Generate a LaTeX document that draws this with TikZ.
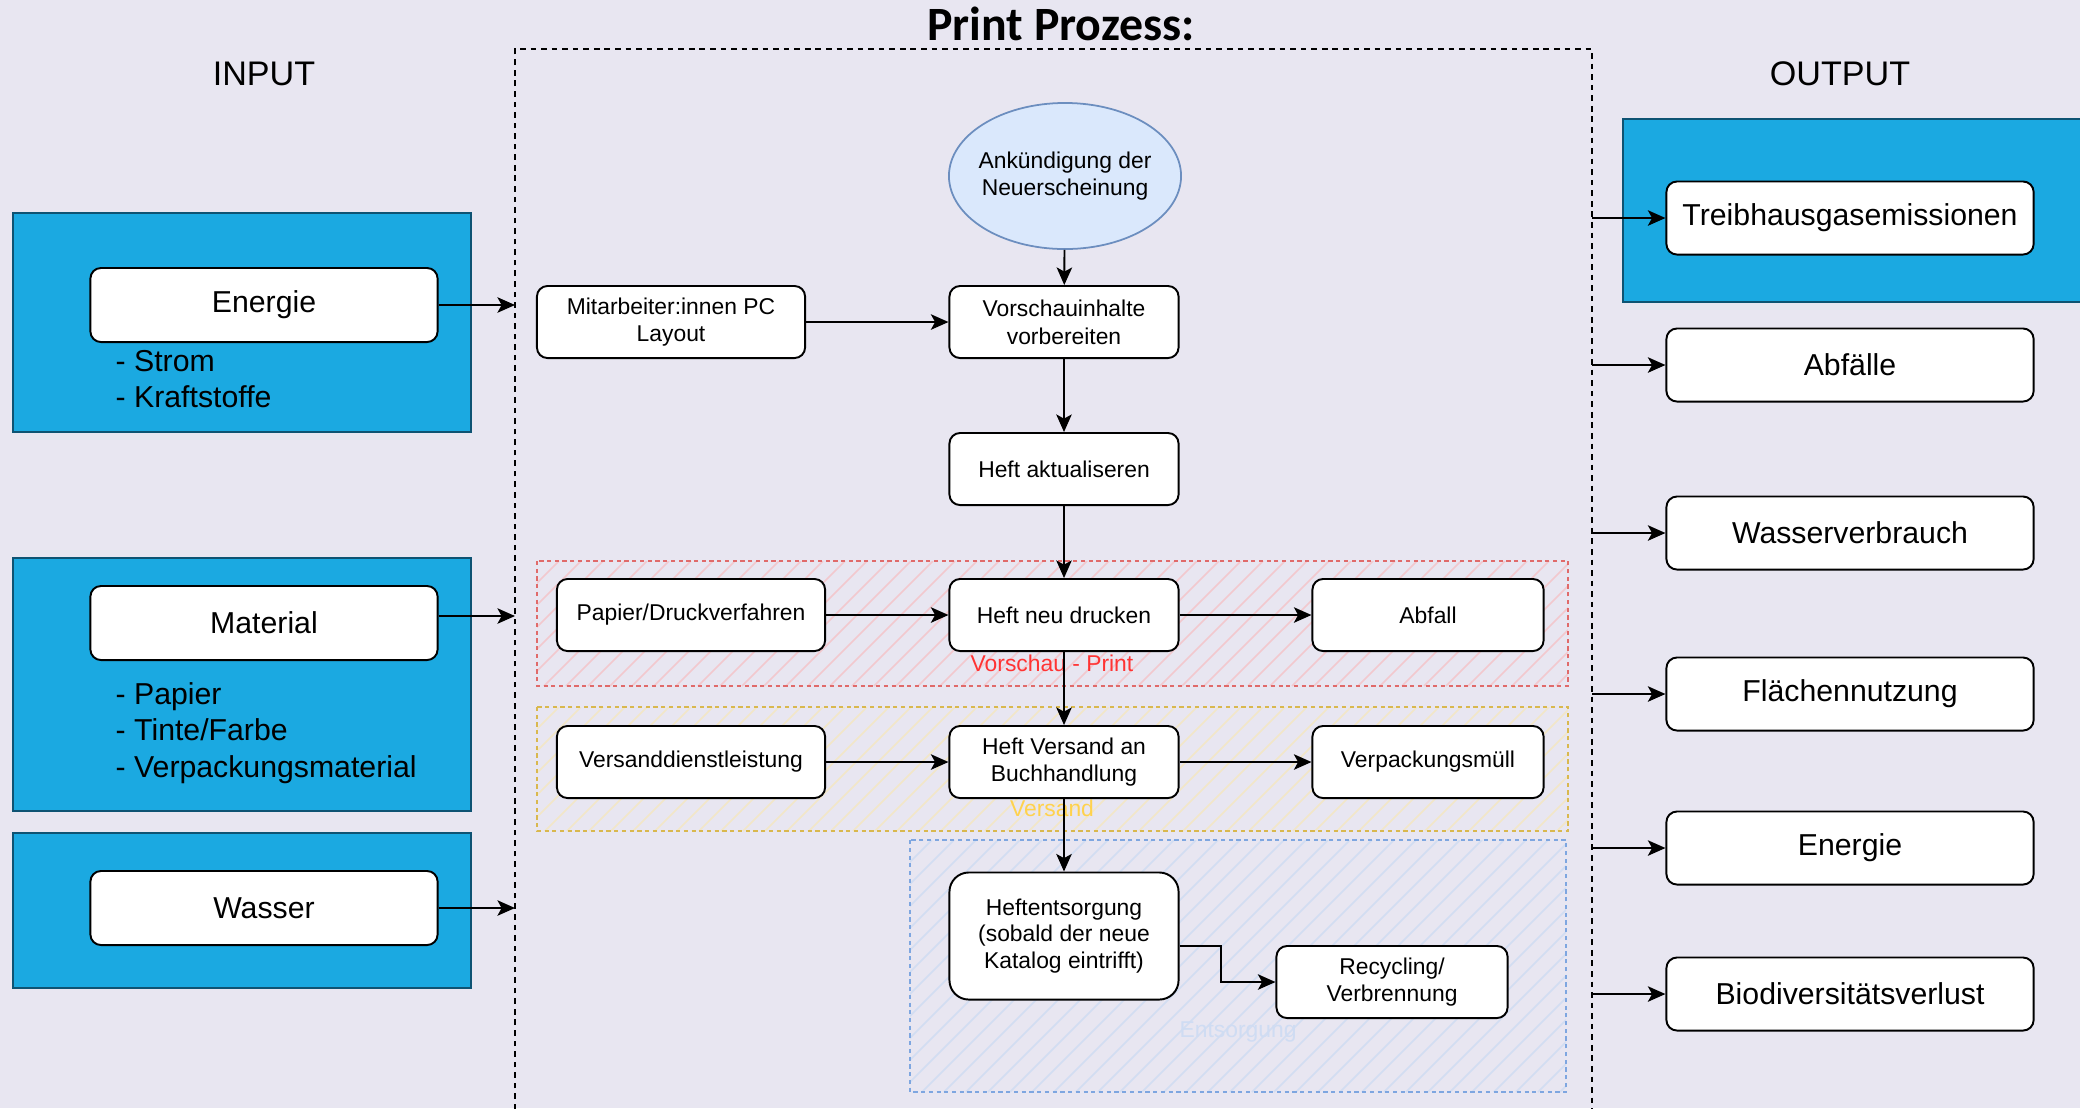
\documentclass[tikz,border=0pt]{standalone}
\usepackage{fontspec}
\setmainfont{Liberation Sans}
\newfontfamily\titlefont{Carlito}
\usetikzlibrary{arrows.meta,shapes.geometric}
\definecolor{bgcolor}{HTML}{E8E6F1}
\definecolor{bluefill}{HTML}{1BA9E1}
\definecolor{bluedraw}{HTML}{0E5373}
\definecolor{ellfill}{HTML}{DAE8FC}
\definecolor{elldraw}{HTML}{6C8EBF}
\definecolor{redline}{HTML}{E06A6A}
\definecolor{redhatch}{HTML}{F2C8CE}
\definecolor{redtext}{HTML}{FF3333}
\definecolor{yellowline}{HTML}{D9B84E}
\definecolor{yellowhatch}{HTML}{F2E6C8}
\definecolor{yellowtext}{HTML}{FFD24D}
\definecolor{blueline}{HTML}{7EA6E0}
\definecolor{bluehatch}{HTML}{D2DDF2}
\definecolor{bluetext}{HTML}{CFDCF3}

\begin{document}
\begin{tikzpicture}
[x=0.01cm,y=-0.01cm,
  stepbox/.style={shape=rectangle,draw,line width=0.55pt,fill=white,rounded corners=3pt,
    minimum width=2.29cm,minimum height=0.72cm,align=center,inner sep=1pt,
    font=\fontsize{6.5}{7.9}\selectfont},
  widebox/.style={stepbox,minimum width=2.68cm},
  bigbox/.style={stepbox,minimum width=3.47cm,minimum height=0.74cm,
    font=\fontsize{8.6}{10.4}\selectfont},
  outbox/.style={bigbox,minimum width=3.67cm,minimum height=0.73cm},
  groupbox/.style={draw=bluedraw,fill=bluefill,line width=0.7pt},
  listtext/.style={anchor=west,align=left,inner sep=0pt,font=\fontsize{8.6}{10.3}\selectfont},
  grouplabel/.style={inner sep=0pt,font=\fontsize{6.5}{7.9}\selectfont},
  arrowdecorate/.style={-{Stealth[length=5pt,width=4.4pt,inset=1.2pt]},line width=0.55pt}]
%% background
\path[use as bounding box,fill=bgcolor] (0,0) rectangle (2080,1108);
%% headings
\node (title) at (1061,24) [font=\titlefont\bfseries\fontsize{13.6}{16}\selectfont] {Print Prozess:};
\node (input) at (264,74) [font=\fontsize{9.7}{11}\selectfont] {INPUT};
\node (output) at (1840,74) [font=\fontsize{9.7}{11}\selectfont] {OUTPUT};
%% process frame
\draw[line width=0.6pt,dash pattern=on 1.6pt off 1.4pt] (515,1120) -- (515,49) -- (1592,49) -- (1592,1120);
%% hatched groups
\foreach \gx/\gy/\gw/\gh/\ghatch/\gline in {537/561/1031/125/redhatch/redline,
  537/707/1031/124/yellowhatch/yellowline, 910/840/656/252/bluehatch/blueline} {
  \begin{scope}
    \clip (\gx,\gy) rectangle ++(\gw,\gh);
    \foreach \hx in {0,22,...,1180}
      \draw[\ghatch,line width=0.45pt] (\gx-\gh+\hx,\gy+\gh) -- ++(\gh,-\gh);
  \end{scope}
  \draw[\gline,line width=0.5pt,dash pattern=on 1.2pt off 1pt] (\gx,\gy) rectangle ++(\gw,\gh);
}
\node (printlabel) at (1052,663) [grouplabel,text=redtext] {Vorschau - Print};
\node (versandlabel) at (1052,808) [grouplabel,text=yellowtext] {Versand};
\node (entsorgunglabel) at (1238,1032) [grouplabel,text=bluetext] {Entsorgung};
%% input side
\draw[groupbox] (13,213) rectangle (471,432);
\draw[groupbox] (13,558) rectangle (471,811);
\draw[groupbox] (13,833) rectangle (471,988);
\foreach \nodename/\posy/\arry/\txt in {energiein/305/305/Energie, material/623/616/Material,
  wasser/908/908/Wasser} {
  \node (\nodename) at (264,\posy) [bigbox] {\txt};
  \coordinate (\nodename-out) at (515,\arry);
  \draw[arrowdecorate] (\nodename.east |- \nodename-out) -- (\nodename-out);
}
\node (energielist) at (115,379) [listtext] {- Strom\\- Kraftstoffe};
\node (materiallist) at (115,733) [listtext] {- Papier\\- Tinte/Farbe\\- Verpackungsmaterial};
%% output side
\draw[groupbox] (1623,119) rectangle (2100,302);
\foreach \nodename/\posy/\txt in {treibhaus/218/Treibhausgasemissionen, abfaelle/365/Abfälle,
  wasserverbrauch/533/Wasserverbrauch, flaeche/694/Flächennutzung,
  energieout/848/Energie, biodiv/994/Biodiversitätsverlust} {
  \node (\nodename) at (1850,\posy) [outbox] {\txt};
  \coordinate (\nodename-in) at (1592,\posy);
  \draw[arrowdecorate] (\nodename-in) -- (\nodename);
}
%% process nodes
\node (ankuendigung) at (1065,176) [shape=ellipse,draw=elldraw,fill=ellfill,line width=0.5pt,
  minimum width=2.32cm,minimum height=1.46cm,align=center,inner xsep=-0.08cm,inner ysep=0pt,
  font=\fontsize{6.5}{7.9}\selectfont] {Ankündigung der\\Neuerscheinung};
\node (vorschau) at (1064,322) [stepbox] {Vorschauinhalte\\vorbereiten};
\node (mitarbeiter) at (671,322) [widebox] {Mitarbeiter:innen PC\\Layout};
\node (aktualisieren) at (1064,469) [stepbox] {Heft aktualiseren};
\node (papier) at (691,615) [widebox] {Papier/Druckverfahren};
\node (drucken) at (1064,615) [stepbox] {Heft neu drucken};
\node (abfall) at (1428,615) [stepbox,minimum width=2.31cm] {Abfall};
\node (versanddienst) at (691,762) [widebox] {Versanddienstleistung};
\node (versand) at (1064,762) [stepbox] {Heft Versand an\\Buchhandlung};
\node (verpackung) at (1428,762) [stepbox,minimum width=2.31cm] {Verpackungsmüll};
\node (entsorgung) at (1064,936) [stepbox,rounded corners=5.5pt,minimum height=1.27cm,
  font=\fontsize{6.5}{7.5}\selectfont] {Heftentsorgung\\(sobald der neue\\Katalog eintrifft)};
\node (recycling) at (1392,982) [stepbox,minimum width=2.31cm] {Recycling/\\Verbrennung};
%% edges
\draw[arrowdecorate] (ankuendigung) -- (vorschau);
\draw[arrowdecorate] (mitarbeiter) -- (vorschau);
\draw[arrowdecorate] (vorschau) -- (aktualisieren);
\draw[arrowdecorate] (aktualisieren) -- (drucken);
\draw[arrowdecorate] (papier) -- (drucken);
\draw[arrowdecorate] (drucken) -- (abfall);
\draw[arrowdecorate] (drucken) -- (versand);
\draw[arrowdecorate] (versanddienst) -- (versand);
\draw[arrowdecorate] (versand) -- (verpackung);
\draw[arrowdecorate] (versand) -- (entsorgung);
\draw[arrowdecorate] ([yshift=-0.1cm]entsorgung.east) -- ++(41,0) |- (recycling.west);
\end{tikzpicture}
\end{document}
